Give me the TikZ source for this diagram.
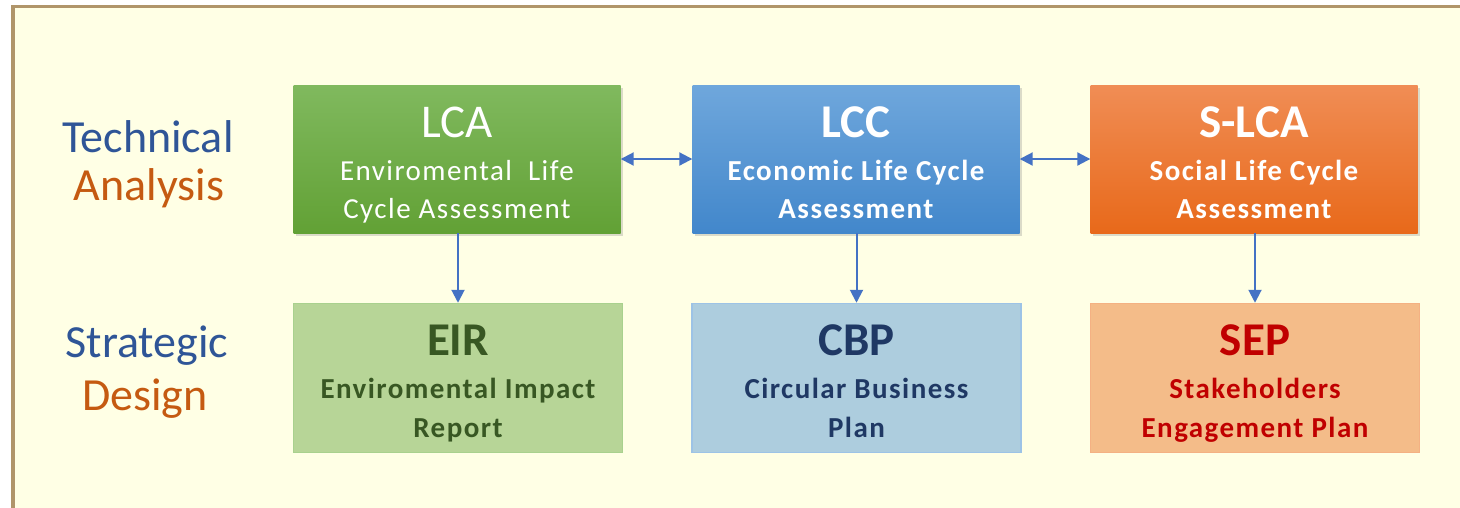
\documentclass[tikz,border=0pt]{standalone}
\usepackage{fontspec}
\setmainfont{Carlito}
\newfontfamily\spacedfont[LetterSpace=5]{Carlito}
\usetikzlibrary{arrows.meta,shadows,calc}
\definecolor{bgyellow}{HTML}{FFFFE5}
\definecolor{framec}{HTML}{B0956A}
\definecolor{greenT}{HTML}{80B95E}
\definecolor{greenB}{HTML}{62A135}
\definecolor{blueT}{HTML}{6FA7DC}
\definecolor{blueB}{HTML}{4287CB}
\definecolor{orangeT}{HTML}{F08D55}
\definecolor{orangeB}{HTML}{E8691A}
\definecolor{eirfill}{HTML}{B7D597}
\definecolor{eirline}{HTML}{A9D18E}
\definecolor{cbpfill}{HTML}{ADCDDE}
\definecolor{cbpline}{HTML}{9DC3E6}
\definecolor{sepfill}{HTML}{F4BC89}
\definecolor{sepline}{HTML}{F4B183}
\definecolor{eirtext}{HTML}{385723}
\definecolor{cbptext}{HTML}{1F3864}
\definecolor{septext}{HTML}{C00000}
\definecolor{labblue}{HTML}{2F5597}
\definecolor{laborange}{HTML}{C55A11}
\definecolor{arrowc}{HTML}{4472C4}
\tikzset{
  topbox/.style={rectangle, minimum width=327pt, minimum height=148pt, inner sep=0pt,
    drop shadow={shadow xshift=2.5pt, shadow yshift=-3pt, opacity=0.28}},
  botbox/.style={rectangle, minimum width=329pt, minimum height=149pt, inner sep=0pt, line width=1.5pt},
  boxtitle/.style={anchor=base, inner sep=0pt, font=\fontsize{47}{50}\selectfont},
  boldtitle/.style={anchor=base, inner sep=0pt, font=\bfseries\fontsize{47}{50}\selectfont},
  boxsub/.style={anchor=base, inner sep=0pt, font=\spacedfont\fontsize{29}{32}\selectfont},
  boldsub/.style={anchor=base, inner sep=0pt, font=\spacedfont\bfseries\fontsize{29}{32}\selectfont},
  sidelabel/.style={anchor=base, inner sep=0pt, font=\fontsize{46}{50}\selectfont},
  conn/.style={draw=arrowc, line width=2pt, arrows={Triangle[length=13pt,width=13pt]-Triangle[length=13pt,width=13pt]}},
  connd/.style={draw=arrowc, line width=2pt, -{Triangle[length=13pt,width=13pt]}}
}
\begin{document}
\begin{tikzpicture}[x=1pt,y=-1pt]
\useasboundingbox (0,0) rectangle (1460,507);
\fill[white] (0,0) rectangle (1460,507);
\clip (0,0) rectangle (1460,507);
\draw[framec, fill=bgyellow, line width=3.5pt] (12.8,6.7) rectangle (1520,560);

% side labels
\node[sidelabel, text=labblue] (tech) at (148,152) {Technical};
\node[sidelabel, text=laborange] (anal) at (149,200) {Analysis};
\node[sidelabel, text=labblue] (strat) at (147,357) {Strategic};
\node[sidelabel, text=laborange] (des) at (145,410) {Design};

% top boxes
\node[topbox, top color=greenT, bottom color=greenB] (lca) at (457,159) {};
\node[topbox, top color=blueT, bottom color=blueB] (lcc) at (856,159) {};
\node[topbox, top color=orangeT, bottom color=orangeB] (slca) at (1254,159) {};

\node[boxtitle, text=white] (lcat) at (457,137) {LCA};
\node[boxsub, text=white] (lcas1) at (457,180) {Enviromental\ \ Life};
\node[boxsub, text=white] (lcas2) at (457,218) {Cycle Assessment};

\node[boldtitle, text=white] (lcct) at (856,137) {LCC};
\node[boldsub, text=white] (lccs1) at (856,180) {Economic Life Cycle};
\node[boldsub, text=white] (lccs2) at (856,218) {Assessment};

\node[boldtitle, text=white] (slcat) at (1254,137) {S-LCA};
\node[boldsub, text=white] (slcas1) at (1254,180) {Social Life Cycle};
\node[boldsub, text=white] (slcas2) at (1254,218) {Assessment};

% bottom boxes
\node[botbox, fill=eirfill, draw=eirline] (eir) at (458,378) {};
\node[botbox, fill=cbpfill, draw=cbpline] (cbp) at (856.5,378) {};
\node[botbox, fill=sepfill, draw=sepline] (sep) at (1255,378) {};

\node[boldtitle, text=eirtext] (eirt) at (458,355) {EIR};
\node[boldsub, text=eirtext] (eirs1) at (458,398) {Enviromental Impact};
\node[boldsub, text=eirtext] (eirs2) at (458,437) {Report};

\node[boldtitle, text=cbptext] (cbpt) at (856.5,355) {CBP};
\node[boldsub, text=cbptext] (cbps1) at (856.5,398) {Circular Business};
\node[boldsub, text=cbptext] (cbps2) at (856.5,437) {Plan};

\node[boldtitle, text=septext] (sept) at (1255,355) {SEP};
\node[boldsub, text=septext] (seps1) at (1255,398) {Stakeholders};
\node[boldsub, text=septext] (seps2) at (1255,437) {Engagement Plan};

% connectors
\draw[conn] (lca.east) -- (lcc.west);
\draw[conn] (lcc.east) -- (slca.west);
\draw[connd] (lca.south -| eir.north) -- (eir.north);
\draw[connd] (lcc.south -| cbp.north) -- (cbp.north);
\draw[connd] (slca.south -| sep.north) -- (sep.north);
\end{tikzpicture}
\end{document}
